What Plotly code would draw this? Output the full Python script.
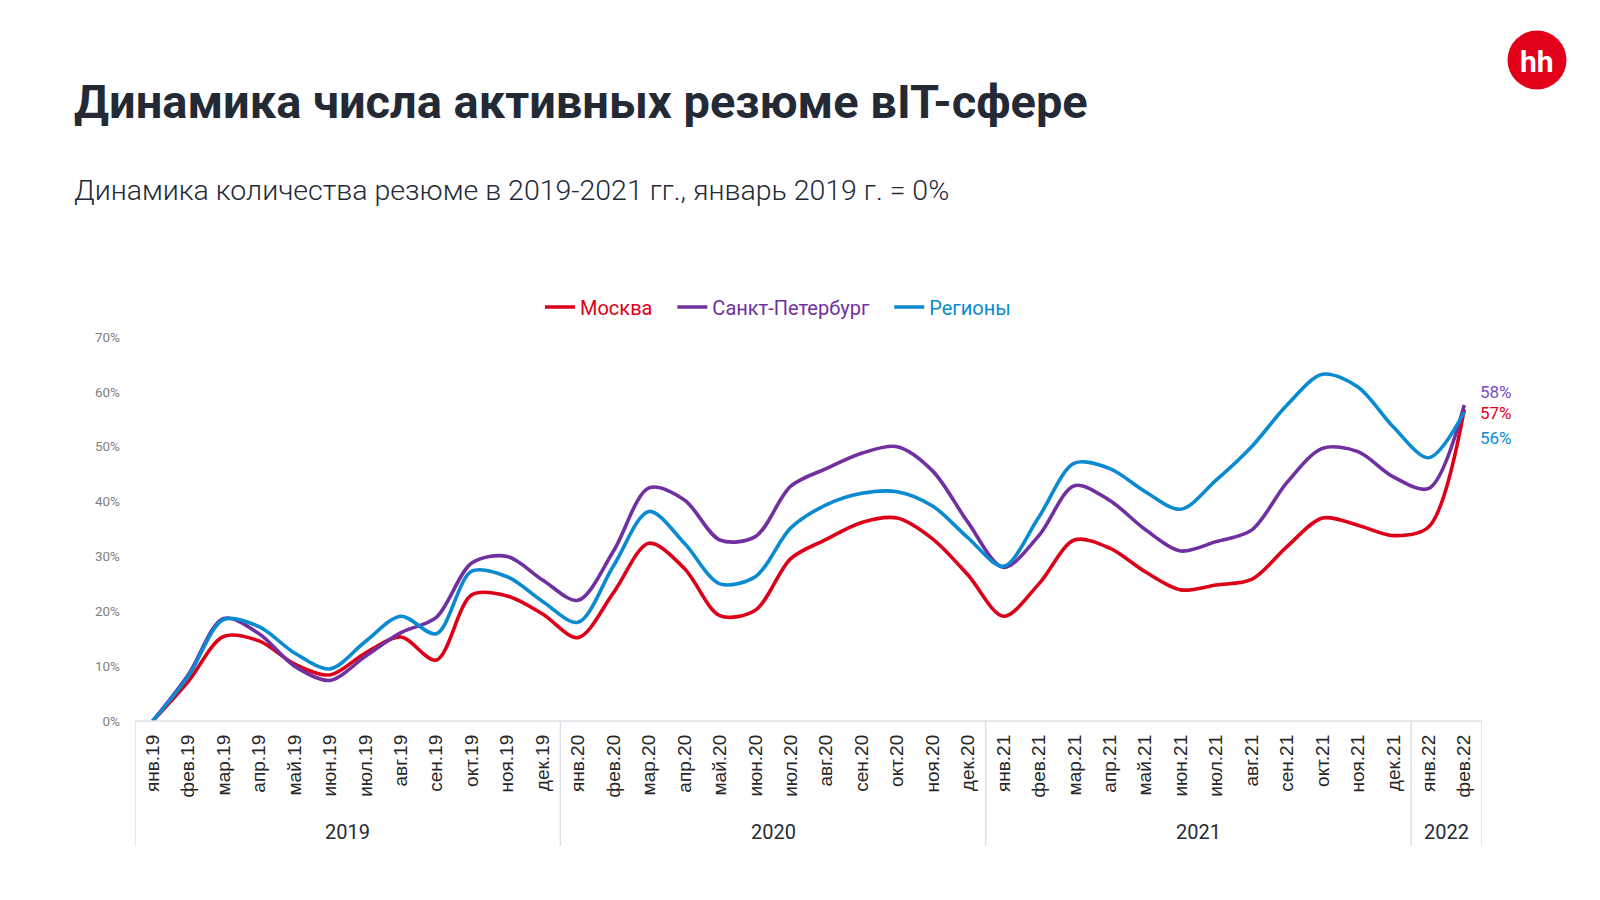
import plotly.graph_objects as go

months = ["янв.19","фев.19","мар.19","апр.19","май.19","июн.19","июл.19","авг.19","сен.19","окт.19","ноя.19","дек.19",
          "янв.20","фев.20","мар.20","апр.20","май.20","июн.20","июл.20","авг.20","сен.20","окт.20","ноя.20","дек.20",
          "янв.21","фев.21","мар.21","апр.21","май.21","июн.21","июл.21","авг.21","сен.21","окт.21","ноя.21","дек.21",
          "янв.22","фев.22"]
years = ["2019", "2020", "2021", "2022"]
year_counts = [12, 12, 12, 2]

moscow = [0, 7.2, 15.4, 14.6, 10.4, 8.4, 12.4, 15.3, 11.1, 23.0, 22.8, 19.5,
          15.2, 23.4, 32.4, 27.8, 19.2, 20.2, 29.6, 33.1, 36.2, 37.0, 33.2, 26.6,
          19.1, 25.0, 33.0, 31.5, 27.2, 23.9, 24.8, 25.8, 31.8, 37.0, 35.7, 33.8,
          35.4, 56.8]
spb = [0, 8.4, 18.7, 15.9, 10.0, 7.4, 11.8, 16.1, 18.9, 28.8, 30.0, 25.7,
       22.0, 31.0, 42.5, 40.3, 33.0, 33.6, 42.8, 46.0, 48.8, 50.0, 45.6, 36.2,
       28.0, 33.8, 42.9, 40.2, 34.9, 31.0, 32.7, 34.8, 43.5, 49.7, 49.1, 44.5,
       42.4, 57.6]
regions = [0, 8.1, 18.5, 17.2, 12.4, 9.5, 14.5, 19.1, 15.9, 27.3, 26.3, 21.8,
           18.0, 28.3, 38.2, 32.4, 25.0, 26.3, 35.2, 39.4, 41.5, 41.8, 39.2, 33.4,
           28.2, 37.2, 47.0, 46.0, 41.8, 38.6, 43.9, 50.0, 57.6, 63.2, 60.9, 53.6,
           48.0, 56.3]

series_names = ["Москва", "Санкт-Петербург", "Регионы"]
series_colors = ["#DC0019", "#7030A0", "#0A8AD0"]
label_colors = ["#E3001B", "#7B4CBF", "#0A8AD0"]
label_shifts = [-4, 13, -26]

W, H = 1600, 900
ML, MR, MT, MB = 135, 118, 337, 179
PW, PH = W - ML - MR, H - MT - MB

def px_x(px):
    return (px - ML) / PW

def px_y(py):
    return (H - MB - py) / PH

fig = go.Figure()
for i, (name, vals, col) in enumerate(zip(series_names, [moscow, spb, regions], series_colors)):
    pad = "\u00a0" * 3 if i < len(series_names) - 1 else ""
    fig.add_trace(go.Scatter(
        x=months, y=vals, mode="lines",
        name=f"<span style='color:{col}'>{name}</span>{pad}",
        line=dict(color=col, width=3.6, shape="spline", smoothing=0.9),
        cliponaxis=False, hoverinfo="skip",
    ))

annotations = []
for vals, col, ys in zip([moscow, spb, regions], label_colors, label_shifts):
    annotations.append(dict(
        x=months[-1], y=vals[-1], xref="x", yref="y",
        text=f"{round(vals[-1])}%", showarrow=False, xanchor="left", yanchor="middle",
        xshift=14, yshift=ys, font=dict(family="Roboto", size=17, color=col)))

# year labels and dividers
shapes = []
start = 0
grid_col = "#DCE0E6"
shapes.append(dict(type="line", xref="paper", yref="paper", x0=0, x1=1, y0=0, y1=0,
                   line=dict(color=grid_col, width=1.5)))
bottom = px_y(846)
shapes.append(dict(type="line", xref="x", yref="paper", x0=-0.5, x1=-0.5, y0=0, y1=bottom,
                   line=dict(color=grid_col, width=1.5)))
for yr, cnt in zip(years, year_counts):
    end = start + cnt
    annotations.append(dict(x=(start + end - 1) / 2, y=px_y(832), xref="x", yref="paper",
                            text=yr, showarrow=False, xanchor="center", yanchor="middle",
                            font=dict(family="Roboto", size=20, color="#262b33")))
    shapes.append(dict(type="line", xref="x", yref="paper", x0=end - 0.5, x1=end - 0.5, y0=0, y1=bottom,
                       line=dict(color=grid_col, width=1.5)))
    start = end

# title & subtitle
annotations.append(dict(x=px_x(72), y=px_y(102), xref="paper", yref="paper",
                        text="<b>Динамика числа активных резюме вIT-сфере</b>", showarrow=False,
                        xanchor="left", yanchor="middle",
                        font=dict(family="Roboto", size=47, color="#232a35")))
annotations.append(dict(x=px_x(72), y=px_y(190), xref="paper", yref="paper",
                        text="Динамика количества резюме в 2019-2021 гг., январь 2019 г. = 0%", showarrow=False,
                        xanchor="left", yanchor="middle",
                        font=dict(family="Roboto", size=28.5, weight=300, color="#232a35")))

# logo
cx, cy, r = 1537, 60, 29.5
shapes.append(dict(type="circle", xref="paper", yref="paper",
                   x0=px_x(cx - r), x1=px_x(cx + r), y0=px_y(cy + r), y1=px_y(cy - r),
                   fillcolor="#E3001B", line=dict(width=0)))
annotations.append(dict(x=px_x(cx), y=px_y(cy + 1), xref="paper", yref="paper", text="<b>hh</b>",
                        showarrow=False, xanchor="center", yanchor="middle",
                        font=dict(family="Roboto", size=30, color="white")))

fig.update_layout(
    width=W, height=H,
    margin=dict(l=ML, r=MR, t=MT, b=MB),
    paper_bgcolor="white", plot_bgcolor="white",
    showlegend=True,
    legend=dict(orientation="h", x=px_x(778), y=px_y(307), xanchor="center", yanchor="middle",
                font=dict(family="Roboto", size=20, color="#333"), itemwidth=30,
                bgcolor="rgba(0,0,0,0)"),
    xaxis=dict(type="category", range=[-0.5, len(months) - 0.5], showgrid=False, zeroline=False,
               showline=False, ticks="", tickangle=-90, ticklabelstandoff=9,
               tickfont=dict(family="Liberation Sans, Arial", size=19, color="#262626"),
               fixedrange=True),
    yaxis=dict(range=[0, 70], dtick=10, ticksuffix="%", showgrid=False, zeroline=False,
               showline=False, ticks="", ticklabelstandoff=14,
               tickfont=dict(family="Roboto", size=13.5, color="#7f7f7f"),
               fixedrange=True),
    annotations=annotations, shapes=shapes,
)

fig.write_html("out.html", config={"displayModeBar": False},
               post_script="document.body.style.margin='0';document.body.style.overflow='hidden';")
